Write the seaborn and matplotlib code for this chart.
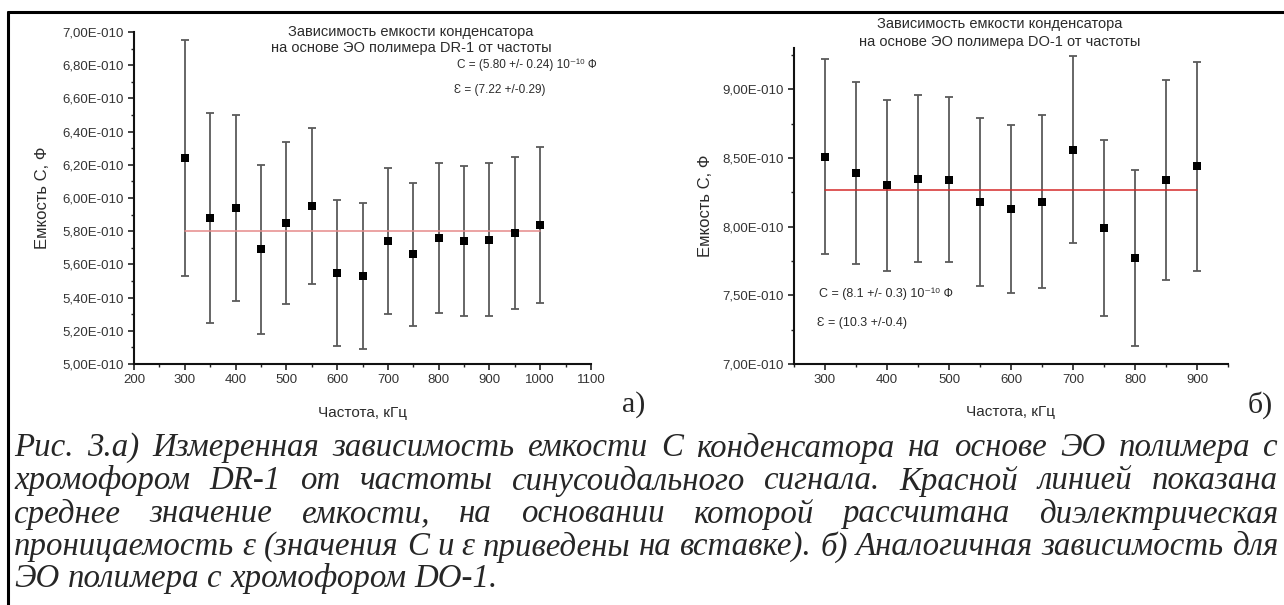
import matplotlib
matplotlib.use('Agg')
import matplotlib.pyplot as plt
import seaborn as sns
import pandas as pd
from matplotlib import ticker
from matplotlib.lines import Line2D

# capacitance values in units of 1e-10 F
freq_dr = [300, 350, 400, 450, 500, 550, 600, 650, 700, 750, 800, 850, 900, 950, 1000]
c_dr = [6.24, 5.88, 5.94, 5.69, 5.85, 5.95, 5.55, 5.53, 5.74, 5.66, 5.76, 5.74, 5.75, 5.79, 5.84]
err_dr = [0.71, 0.63, 0.56, 0.51, 0.49, 0.47, 0.44, 0.44, 0.44, 0.43, 0.45, 0.45, 0.46, 0.46, 0.47]
mean_dr = 5.80

freq_do = [300, 350, 400, 450, 500, 550, 600, 650, 700, 750, 800, 850, 900]
c_do = [8.51, 8.39, 8.30, 8.35, 8.34, 8.18, 8.13, 8.18, 8.56, 7.99, 7.77, 8.34, 8.44]
err_do = [0.71, 0.66, 0.62, 0.61, 0.60, 0.61, 0.61, 0.63, 0.68, 0.64, 0.64, 0.73, 0.76]
mean_do = 8.27

xticks_dr = [200, 300, 400, 500, 600, 700, 800, 900, 1000, 1100]
yticks_dr = [5.0, 5.2, 5.4, 5.6, 5.8, 6.0, 6.2, 6.4, 6.6, 6.8, 7.0]
ylabels_dr = ['5,00E-010', '5,20E-010', '5,40E-010', '5,60E-010', '5,80E-010', '6,00E-010',
              '6,20E-010', '6,40E-010', '6,60E-010', '6,80E-010', '7,00E-010']
xticks_do = [300, 400, 500, 600, 700, 800, 900]
yticks_do = [7.0, 7.5, 8.0, 8.5, 9.0]
ylabels_do = ['7,00E-010', '7,50E-010', '8,00E-010', '8,50E-010', '9,00E-010']

caption = [
    "Рис. 3.а) Измеренная зависимость емкости С конденсатора на основе ЭО полимера с",
    "хромофором DR-1 от частоты синусоидального сигнала. Красной линией показана",
    "среднее значение емкости, на основании которой рассчитана диэлектрическая",
    "проницаемость ε (значения С и ε приведены на вставке). б) Аналогичная зависимость для",
    "ЭО полимера с хромофором DO-1.",
]

sns.set_style('white')
plt.rcParams['font.family'] = ['Liberation Sans', 'DejaVu Sans']

W, H = 1284, 605
fig = plt.figure(figsize=(W / 100, H / 100), dpi=100)
txt = '#2b2b2b'


def px(x, y):
    return x / W, 1 - y / H


def panel(rect, freq, c, err, mean, xlim, ylim, xticks, yticks, ylabels, red):
    ax = fig.add_axes(rect)
    df = pd.DataFrame({'f': freq, 'c': c, 'e': err})
    ax.errorbar(df['f'], df['c'], yerr=df['e'], fmt='none', ecolor='#5a5a5a',
                elinewidth=1.3, capsize=2.6, capthick=1.3, zorder=2)
    sns.lineplot(x=[freq[0], freq[-1]], y=[mean, mean], color=red, lw=1.1, ax=ax, zorder=3)
    sns.scatterplot(data=df, x='f', y='c', marker='s', color='black', s=34,
                    linewidth=0, ax=ax, zorder=4)
    ax.set_xlim(*xlim)
    ax.set_ylim(*ylim)
    ax.set_xticks(xticks)
    ax.set_xticklabels([str(v) for v in xticks])
    ax.set_yticks(yticks)
    ax.set_yticklabels(ylabels)
    ax.xaxis.set_minor_locator(ticker.MultipleLocator(50))
    ax.yaxis.set_minor_locator(ticker.MultipleLocator((yticks[1] - yticks[0]) / 2))
    ax.tick_params(which='major', direction='out', length=4.5, width=1.2, color='#222222',
                   labelsize=9.5, labelcolor='#333333', pad=3, left=True, bottom=True)
    ax.tick_params(which='minor', direction='out', length=2.5, width=1.0, color='#222222',
                   left=True, bottom=True)
    for s in ['top', 'right']:
        ax.spines[s].set_visible(False)
    for s in ['left', 'bottom']:
        ax.spines[s].set_color('#111111')
        ax.spines[s].set_linewidth(1.5)
    ax.set_xlabel('Частота, кГц', fontsize=11, color=txt)
    ax.set_ylabel('Емкость С, Ф', fontsize=12, color=txt)
    ax.grid(False)
    ax.set_facecolor('none')
    return ax


ax1 = panel([134 / W, 1 - 364 / H, 457 / W, 332 / H], freq_dr, c_dr, err_dr, mean_dr,
            (200, 1100), (5.0, 7.0), xticks_dr, yticks_dr, ylabels_dr, '#e58a8a')
ax2 = panel([794 / W, 1 - 364 / H, 434 / W, 316 / H], freq_do, c_do, err_do, mean_do,
            (250, 950), (7.0, 9.3), xticks_do, yticks_do, ylabels_do, '#d42a2a')

ax1.yaxis.set_label_coords(-0.183, 0.5)
ax2.yaxis.set_label_coords(-0.186, 0.5)
ax1.xaxis.set_label_coords(0.5, -0.125)
ax2.xaxis.set_label_coords(0.5, -0.131)

fig.text(*px(411, 40), 'Зависимость емкости конденсатора\nна основе ЭО полимера DR-1 от частоты',
         ha='center', va='center', fontsize=10.5, color=txt, linespacing=1.25)
fig.text(*px(1000, 33), 'Зависимость емкости конденсатора\nна основе ЭО полимера DO-1 от частоты',
         ha='center', va='center', fontsize=10.5, color=txt, linespacing=1.35)

ax1.text(836, 6.80, 'C = (5.80 +/- 0.24) 10⁻¹⁰ Ф', fontsize=8.5, color=txt, va='center')
ax1.text(830, 6.65, 'Ɛ = (7.22 +/-0.29)', fontsize=8.5, color=txt, va='center')
ax2.text(290, 7.51, 'C = (8.1 +/- 0.3) 10⁻¹⁰ Ф', fontsize=9, color=txt, va='center')
ax2.text(287, 7.30, 'Ɛ = (10.3 +/-0.4)', fontsize=9, color=txt, va='center')

serif = ['Liberation Serif', 'DejaVu Serif']
fig.text(*px(622, 405), 'а)', family=serif, fontsize=21.5, va='center', ha='left')
fig.text(*px(1248, 405), 'б)', family=serif, fontsize=21.5, va='center', ha='left')

# frame of the table cell
fig.add_artist(Line2D([8 / W, 1], [1 - 12 / H] * 2, color='black', lw=2.2))
fig.add_artist(Line2D([8 / W] * 2, [0, 1 - 12 / H], color='black', lw=2.2))

# justified italic caption
fig.canvas.draw()
rend = fig.canvas.get_renderer()
probe = fig.text(0, 0, 'проницаемость ε (значения', family=serif, style='italic', fontsize=20)
pw = probe.get_window_extent(rend).width
probe.remove()
cap_fs = 20 * 383 / pw

x_left, x_right = 14, 1278
line_y = [448, 481, 514, 547, 579]
for i, (line, y) in enumerate(zip(caption, line_y)):
    words = line.split(' ')
    items = [fig.text(0, 1 - y / H, w, family=serif, style='italic', fontsize=cap_fs,
                      va='center', ha='left') for w in words]
    widths = [t.get_window_extent(rend).width for t in items]
    if i < len(caption) - 1:
        gap = (x_right - x_left - sum(widths)) / (len(words) - 1)
    else:
        sp = fig.text(0, 0, 'a a', family=serif, style='italic', fontsize=cap_fs)
        sp2 = fig.text(0, 0, 'aa', family=serif, style='italic', fontsize=cap_fs)
        gap = sp.get_window_extent(rend).width - sp2.get_window_extent(rend).width
        sp.remove()
        sp2.remove()
    x = x_left
    for t, w in zip(items, widths):
        t.set_x(x / W)
        x += w + gap

fig.savefig('out.png', dpi=100)
